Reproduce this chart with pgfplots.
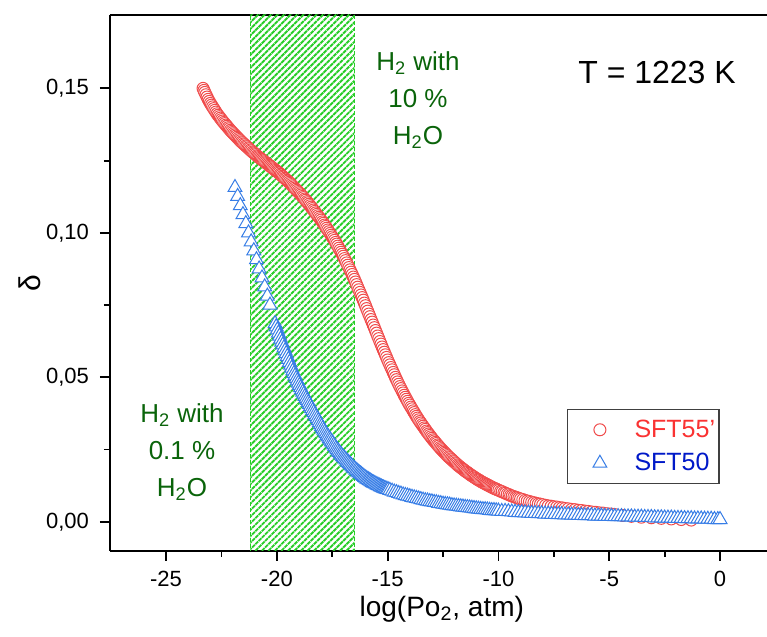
\documentclass[border=0pt]{standalone}
\usepackage{pgfplots}
\pgfplotsset{compat=1.18}
\usepackage{fontspec}
\setmainfont{Liberation Sans}
\usetikzlibrary{patterns.meta}
\definecolor{myred}{RGB}{240,75,75}
\definecolor{myblue}{RGB}{55,125,230}
\definecolor{legred}{RGB}{250,50,50}
\definecolor{legblue}{RGB}{0,25,200}
\definecolor{dgreen}{RGB}{10,100,10}
\definecolor{hgreen}{RGB}{40,205,40}

\pgfplotstableread{
x y
-23.33 0.1500
-23.29 0.1493
-23.25 0.1486
-23.20 0.1478
-23.15 0.1470
-23.10 0.1462
-23.05 0.1455
-23.00 0.1448
-22.95 0.1442
-22.90 0.1436
-22.85 0.1430
-22.80 0.1424
-22.75 0.1418
-22.70 0.1412
-22.65 0.1407
-22.60 0.1402
-22.55 0.1397
-22.50 0.1392
-22.45 0.1387
-22.40 0.1382
-22.35 0.1378
-22.30 0.1373
-22.25 0.1369
-22.20 0.1364
-22.15 0.1360
-22.10 0.1355
-22.05 0.1351
-22.00 0.1347
-21.95 0.1343
-21.90 0.1339
-21.85 0.1335
-21.80 0.1331
-21.75 0.1327
-21.70 0.1323
-21.65 0.1319
-21.60 0.1315
-21.55 0.1312
-21.50 0.1308
-21.45 0.1305
-21.40 0.1301
-21.35 0.1298
-21.30 0.1294
-21.25 0.1291
-21.20 0.1287
-21.15 0.1284
-21.10 0.1280
-21.05 0.1277
-21.00 0.1274
-20.95 0.1271
-20.90 0.1267
-20.85 0.1264
-20.80 0.1261
-20.75 0.1258
-20.70 0.1255
-20.65 0.1252
-20.60 0.1249
-20.55 0.1246
-20.50 0.1243
-20.45 0.1240
-20.40 0.1237
-20.35 0.1234
-20.30 0.1231
-20.25 0.1228
-20.20 0.1225
-20.15 0.1222
-20.10 0.1219
-20.05 0.1216
-20.00 0.1213
-19.95 0.1210
-19.90 0.1207
-19.85 0.1203
-19.80 0.1200
-19.75 0.1196
-19.70 0.1193
-19.65 0.1189
-19.60 0.1186
-19.55 0.1182
-19.50 0.1179
-19.45 0.1175
-19.40 0.1171
-19.35 0.1167
-19.30 0.1163
-19.25 0.1159
-19.20 0.1155
-19.15 0.1151
-19.10 0.1147
-19.05 0.1143
-19.00 0.1139
-18.95 0.1135
-18.90 0.1131
-18.85 0.1126
-18.80 0.1122
-18.75 0.1117
-18.70 0.1113
-18.65 0.1108
-18.60 0.1104
-18.55 0.1099
-18.50 0.1094
-18.45 0.1089
-18.40 0.1084
-18.35 0.1079
-18.30 0.1074
-18.25 0.1069
-18.20 0.1064
-18.15 0.1059
-18.10 0.1054
-18.05 0.1049
-18.00 0.1044
-17.95 0.1038
-17.90 0.1033
-17.85 0.1027
-17.80 0.1022
-17.75 0.1016
-17.70 0.1010
-17.65 0.1004
-17.60 0.0998
-17.55 0.0992
-17.50 0.0986
-17.45 0.0980
-17.40 0.0974
-17.35 0.0967
-17.30 0.0961
-17.25 0.0954
-17.20 0.0947
-17.15 0.0940
-17.10 0.0933
-17.05 0.0926
-17.00 0.0919
-16.95 0.0911
-16.90 0.0904
-16.85 0.0896
-16.80 0.0888
-16.75 0.0880
-16.70 0.0872
-16.65 0.0864
-16.60 0.0856
-16.55 0.0847
-16.50 0.0839
-16.45 0.0830
-16.40 0.0821
-16.35 0.0812
-16.30 0.0803
-16.25 0.0794
-16.20 0.0785
-16.15 0.0776
-16.10 0.0767
-16.05 0.0757
-16.00 0.0748
-15.95 0.0738
-15.90 0.0729
-15.85 0.0719
-15.80 0.0710
-15.75 0.0700
-15.70 0.0691
-15.65 0.0681
-15.60 0.0672
-15.55 0.0662
-15.50 0.0653
-15.45 0.0643
-15.40 0.0634
-15.35 0.0624
-15.30 0.0615
-15.25 0.0605
-15.20 0.0596
-15.15 0.0587
-15.10 0.0578
-15.05 0.0569
-15.00 0.0560
-14.95 0.0551
-14.90 0.0543
-14.85 0.0534
-14.80 0.0526
-14.75 0.0517
-14.70 0.0509
-14.65 0.0500
-14.60 0.0492
-14.55 0.0484
-14.50 0.0476
-14.45 0.0468
-14.40 0.0461
-14.35 0.0453
-14.30 0.0446
-14.25 0.0438
-14.20 0.0431
-14.15 0.0424
-14.10 0.0417
-14.05 0.0410
-14.00 0.0404
-13.95 0.0397
-13.90 0.0391
-13.85 0.0384
-13.80 0.0378
-13.75 0.0371
-13.70 0.0365
-13.65 0.0359
-13.60 0.0353
-13.55 0.0347
-13.50 0.0342
-13.45 0.0336
-13.40 0.0331
-13.35 0.0325
-13.30 0.0320
-13.25 0.0314
-13.20 0.0309
-13.15 0.0304
-13.10 0.0299
-13.05 0.0294
-13.00 0.0289
-12.95 0.0284
-12.90 0.0280
-12.85 0.0275
-12.80 0.0271
-12.75 0.0266
-12.70 0.0262
-12.65 0.0257
-12.60 0.0253
-12.55 0.0249
-12.50 0.0245
-12.45 0.0241
-12.40 0.0237
-12.35 0.0233
-12.30 0.0229
-12.25 0.0225
-12.20 0.0222
-12.15 0.0218
-12.10 0.0215
-12.05 0.0211
-12.00 0.0208
-11.95 0.0204
-11.90 0.0201
-11.85 0.0197
-11.80 0.0194
-11.75 0.0191
-11.70 0.0188
-11.65 0.0185
-11.60 0.0182
-11.55 0.0179
-11.50 0.0176
-11.45 0.0173
-11.40 0.0171
-11.35 0.0168
-11.30 0.0165
-11.25 0.0162
-11.20 0.0160
-11.15 0.0157
-11.10 0.0155
-11.05 0.0152
-11.00 0.0150
-10.95 0.0147
-10.90 0.0145
-10.85 0.0143
-10.80 0.0140
-10.75 0.0138
-10.70 0.0136
-10.65 0.0134
-10.60 0.0132
-10.55 0.0130
-10.50 0.0128
-10.45 0.0126
-10.40 0.0124
-10.35 0.0122
-10.30 0.0120
-10.25 0.0118
-10.20 0.0116
-10.15 0.0115
-10.10 0.0113
-10.05 0.0111
-9.98 0.0109
-9.90 0.0106
-9.83 0.0104
-9.75 0.0101
-9.68 0.0099
-9.60 0.0096
-9.52 0.0094
-9.45 0.0091
-9.38 0.0089
-9.30 0.0087
-9.22 0.0085
-9.15 0.0083
-9.08 0.0081
-9.00 0.0079
-8.90 0.0077
-8.80 0.0074
-8.70 0.0072
-8.60 0.0070
-8.50 0.0068
-8.40 0.0066
-8.30 0.0064
-8.20 0.0062
-8.10 0.0061
-8.00 0.0059
-7.87 0.0057
-7.75 0.0055
-7.62 0.0054
-7.50 0.0052
-7.37 0.0051
-7.25 0.0049
-7.12 0.0048
-7.00 0.0046
-6.85 0.0045
-6.70 0.0043
-6.55 0.0042
-6.40 0.0040
-6.25 0.0039
-6.10 0.0037
-5.95 0.0036
-5.80 0.0034
-5.62 0.0033
-5.45 0.0031
-5.28 0.0030
-5.10 0.0028
-4.92 0.0027
-4.75 0.0025
-4.40 0.0022
-4.00 0.0019
-3.55 0.0016
-3.10 0.0014
-2.65 0.0012
-2.20 0.0010
-1.75 0.0008
-1.30 0.0006
}\redtable

\pgfplotstableread{
x y
-21.89 0.1157
-21.77 0.1126
-21.65 0.1094
-21.53 0.1063
-21.40 0.1032
-21.28 0.1000
-21.16 0.0969
-21.04 0.0938
-20.92 0.0907
-20.80 0.0875
-20.67 0.0844
-20.55 0.0813
-20.43 0.0781
-20.31 0.0750
-20.08 0.0686
-20.03 0.0675
-19.98 0.0664
-19.93 0.0653
-19.88 0.0643
-19.83 0.0632
-19.78 0.0622
-19.73 0.0612
-19.68 0.0602
-19.63 0.0592
-19.58 0.0582
-19.53 0.0572
-19.48 0.0562
-19.43 0.0552
-19.38 0.0542
-19.33 0.0532
-19.28 0.0522
-19.23 0.0513
-19.18 0.0505
-19.13 0.0496
-19.08 0.0488
-19.03 0.0480
-18.98 0.0472
-18.93 0.0464
-18.88 0.0457
-18.83 0.0449
-18.78 0.0442
-18.73 0.0434
-18.68 0.0427
-18.63 0.0420
-18.58 0.0413
-18.53 0.0406
-18.48 0.0399
-18.43 0.0392
-18.38 0.0385
-18.33 0.0378
-18.28 0.0371
-18.23 0.0364
-18.18 0.0357
-18.13 0.0350
-18.08 0.0343
-18.03 0.0336
-17.98 0.0330
-17.93 0.0323
-17.88 0.0317
-17.83 0.0311
-17.78 0.0305
-17.73 0.0299
-17.68 0.0294
-17.63 0.0288
-17.58 0.0283
-17.53 0.0277
-17.48 0.0272
-17.43 0.0266
-17.38 0.0261
-17.33 0.0255
-17.28 0.0250
-17.23 0.0245
-17.18 0.0240
-17.13 0.0235
-17.08 0.0231
-17.03 0.0226
-16.98 0.0222
-16.93 0.0218
-16.88 0.0214
-16.83 0.0210
-16.78 0.0206
-16.73 0.0202
-16.68 0.0198
-16.63 0.0194
-16.58 0.0190
-16.53 0.0186
-16.48 0.0183
-16.43 0.0179
-16.38 0.0176
-16.33 0.0172
-16.28 0.0169
-16.23 0.0166
-16.18 0.0163
-16.13 0.0160
-16.08 0.0157
-16.03 0.0154
-15.98 0.0151
-15.93 0.0148
-15.88 0.0146
-15.83 0.0143
-15.78 0.0141
-15.73 0.0138
-15.68 0.0136
-15.63 0.0134
-15.58 0.0132
-15.53 0.0130
-15.48 0.0128
-15.43 0.0126
-15.38 0.0124
-15.33 0.0122
-15.28 0.0120
-15.23 0.0118
-15.18 0.0117
-15.13 0.0115
-15.08 0.0114
-15.03 0.0112
-14.98 0.0111
-14.90 0.0109
-14.80 0.0106
-14.70 0.0103
-14.60 0.0101
-14.50 0.0098
-14.40 0.0096
-14.30 0.0093
-14.20 0.0091
-14.10 0.0089
-14.00 0.0087
-13.90 0.0085
-13.80 0.0083
-13.70 0.0081
-13.60 0.0079
-13.50 0.0077
-13.40 0.0075
-13.30 0.0073
-13.20 0.0072
-13.10 0.0070
-13.00 0.0069
-12.90 0.0067
-12.80 0.0066
-12.70 0.0064
-12.60 0.0063
-12.50 0.0061
-12.40 0.0060
-12.30 0.0059
-12.20 0.0058
-12.10 0.0056
-12.00 0.0055
-11.90 0.0054
-11.80 0.0053
-11.70 0.0052
-11.60 0.0051
-11.50 0.0050
-11.40 0.0049
-11.30 0.0048
-11.20 0.0047
-11.10 0.0046
-11.00 0.0045
-10.90 0.0044
-10.80 0.0043
-10.70 0.0042
-10.60 0.0042
-10.50 0.0041
-10.40 0.0040
-10.30 0.0039
-10.20 0.0039
-10.10 0.0038
-10.00 0.0037
-9.85 0.0036
-9.70 0.0036
-9.55 0.0035
-9.40 0.0034
-9.25 0.0033
-9.10 0.0032
-8.95 0.0032
-8.80 0.0031
-8.65 0.0030
-8.50 0.0029
-8.35 0.0029
-8.20 0.0028
-8.05 0.0028
-7.90 0.0027
-7.75 0.0027
-7.60 0.0026
-7.45 0.0026
-7.30 0.0025
-7.15 0.0025
-7.00 0.0024
-6.85 0.0024
-6.70 0.0023
-6.55 0.0023
-6.40 0.0022
-6.25 0.0022
-6.10 0.0021
-5.95 0.0021
-5.80 0.0021
-5.65 0.0020
-5.50 0.0020
-5.35 0.0020
-5.20 0.0019
-5.05 0.0019
-4.90 0.0019
-4.75 0.0018
-4.60 0.0018
-4.45 0.0018
-4.30 0.0017
-4.15 0.0017
-4.00 0.0017
-3.85 0.0016
-3.70 0.0016
-3.55 0.0016
-3.40 0.0015
-3.25 0.0015
-3.10 0.0015
-2.95 0.0014
-2.80 0.0014
-2.65 0.0014
-2.50 0.0013
-2.35 0.0013
-2.20 0.0013
-2.05 0.0012
-1.90 0.0012
-1.75 0.0012
-1.60 0.0011
-1.45 0.0011
-1.30 0.0011
-1.15 0.0010
-1.00 0.0010
-0.85 0.0010
-0.70 0.0009
-0.55 0.0009
-0.40 0.0009
-0.25 0.0008
-0.10 0.0008
0.00 0.0008
}\bluetable

\begin{document}
\begin{tikzpicture}
\begin{axis}[
  scale only axis, width=328.5pt, height=268pt,
  at={(0,0)}, anchor=south west,
  xmin=-27.53, xmax=2.12, ymin=-0.0101, ymax=0.1754,
  axis x line*=box, axis y line*=left,
  xtick={-25,-20,-15,-10,-5,0}, ytick={0,0.05,0.1,0.15},
  minor x tick num=1, minor y tick num=1,
  xtick pos=bottom, ytick pos=left,
  tick align=outside,
  major tick length=5pt, minor tick length=3pt,
  every tick/.style={black, line width=0.9pt},
  axis line style={line width=1pt, -},
  scaled y ticks=false,
  /pgf/number format/assume math mode=true,
  yticklabel style={/pgf/number format/fixed, /pgf/number format/fixed zerofill,
    /pgf/number format/precision=2, /pgf/number format/use comma, xshift=-2pt},
  tick label style={font=\fontsize{11}{13}\selectfont},
  xticklabel style={yshift=-1.5pt},
  xlabel={log(Po\textsubscript{2}, atm)},
  ylabel={δ},
  every axis x label/.style={at={(axis description cs:0.505,-0.109)}, anchor=center, font=\fontsize{14}{16}\selectfont},
  every axis y label/.style={at={(axis description cs:-0.122,0.5)}, rotate=90, anchor=center, font=\fontsize{15}{17}\selectfont},
  legend style={at={(0.928,0.265)}, anchor=north east, draw=black!75, line width=0.6pt,
    font=\fontsize{12.5}{15}\selectfont, row sep=2.5pt, inner xsep=0pt, inner ysep=3pt,
    /tikz/every even column/.append style={column sep=1pt}},
  legend image code/.code={%
    \path (-16pt,0pt) (15pt,0pt);
    \draw[#1, only marks] plot coordinates {(0pt,0pt)};},
  legend cell align=left,
  clip=true,
]
\addplot[forget plot, draw=hgreen, dash pattern=on 2pt off 1pt, line width=0.6pt,
  pattern={Lines[angle=45,distance=2.3pt,line width=0.95pt]}, pattern color=hgreen]
  coordinates {(-21.2,-0.03) (-21.2,0.2) (-16.5,0.2) (-16.5,-0.03)} -- cycle;

\addplot[only marks, mark=*, mark size=3pt, mark options={draw=myred, fill=white, line width=0.5pt}] table[x=x,y=y] {\redtable};
\addlegendentry{\textcolor{legred}{SFT55'}}
\addplot[only marks, mark=triangle*, mark size=4pt, mark options={draw=myblue, fill=white, line width=0.5pt}] table[x=x,y=y] {\bluetable};
\addlegendentry{\textcolor{legblue}{SFT50}}

\node[font=\fontsize{13}{18.5}\selectfont, text=dgreen, align=center] at (axis cs:-13.63,0.1459) {H\textsubscript{2} with\\10 \%\\H\textsubscript{2}O};
\node[font=\fontsize{13}{18.5}\selectfont, text=dgreen, align=center] at (axis cs:-24.28,0.0241) {H\textsubscript{2} with\\0.1 \%\\H\textsubscript{2}O};
\node[font=\fontsize{16}{19}\selectfont] at (axis cs:-2.84,0.1556) {T = 1223 K};
\end{axis}
\pgfresetboundingbox
\path (-55pt,-43pt) rectangle (328.5pt,275.5pt);
\end{tikzpicture}
\end{document}
